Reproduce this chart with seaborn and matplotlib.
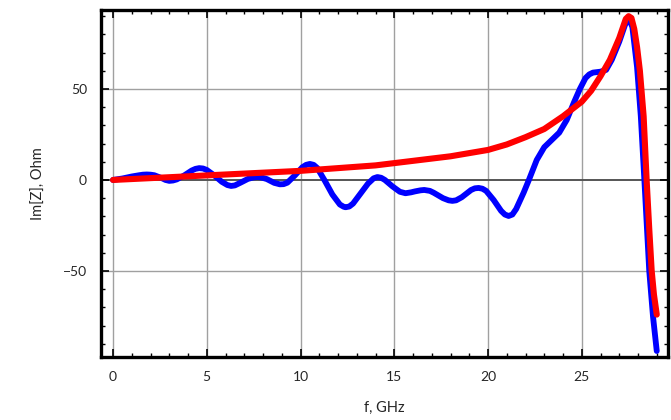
import numpy as np
import pandas as pd
import matplotlib
matplotlib.use("Agg")
import matplotlib.pyplot as plt
from matplotlib.ticker import MultipleLocator
import seaborn as sns

# Blue curve (oscillating)
blue_f = [0.0, 0.5, 1.0, 1.4, 1.6, 1.8, 2.0, 2.2, 2.6, 2.8, 3.0, 3.2, 3.4, 3.8, 4.2,
          4.4, 4.6, 4.8, 5.0, 5.4, 5.8, 6.1, 6.3, 6.5, 6.8, 7.2, 7.5, 7.7, 7.9, 8.2,
          8.6, 8.9, 9.1, 9.3, 9.7, 10.1, 10.3, 10.5, 10.7, 10.9, 11.3, 11.7, 12.1,
          12.3, 12.4, 12.6, 12.8, 13.2, 13.6, 13.9, 14.1, 14.3, 14.5, 14.9, 15.3,
          15.6, 15.9, 16.1, 16.4, 16.6, 16.9, 17.1, 17.6, 17.9, 18.1, 18.3, 18.6,
          19.1, 19.3, 19.5, 19.7, 19.9, 20.3, 20.7, 20.9, 21.1, 21.3, 21.5, 21.9,
          22.2, 22.6, 23.0, 23.4, 23.8, 24.2, 24.6, 24.9, 25.2, 25.4, 25.6, 26.0,
          26.3, 26.6, 27.0, 27.3, 27.45, 27.55, 27.7, 27.95, 28.15, 28.34, 28.6,
          28.8, 29.0]
blue_im = [0.0, 0.8, 1.9, 2.6, 2.9, 3.0, 2.9, 2.6, 1.0, 0.0, -0.5, -0.3, 0.3, 2.5,
           5.2, 6.1, 6.5, 6.3, 5.5, 2.5, -1.0, -2.8, -3.3, -3.0, -1.5, 0.6, 1.4,
           1.6, 1.4, 0.5, -1.6, -2.4, -2.3, -1.5, 2.5, 7.0, 8.3, 8.8, 8.3, 6.5,
           -0.5, -8.0, -13.5, -14.7, -15.0, -14.6, -13.0, -7.5, -2.0, 0.9, 1.6, 1.2,
           0.0, -3.5, -6.5, -7.3, -6.8, -6.3, -5.7, -5.5, -6.0, -7.0, -10.0, -11.2,
           -11.5, -11.2, -9.5, -5.5, -4.6, -4.4, -4.8, -6.0, -11.0, -17.0, -19.0,
           -19.8, -19.0, -16.0, -7.0, 0.5, 11.0, 18.0, 22.0, 26.0, 33.0, 43.0, 50.0,
           56.0, 58.0, 59.0, 59.5, 60.5, 66.0, 76.0, 85.0, 88.0, 88.0, 84.0, 62.0,
           35.0, 0.0, -50.0, -75.0, -94.0]

# Red curve (smooth)
red_f = [0.0, 2.0, 4.0, 6.0, 8.0, 10.0, 12.0, 14.0, 16.0, 18.0, 20.0, 21.0, 22.0,
         23.0, 24.0, 25.0, 25.5, 26.0, 26.5, 27.0, 27.2, 27.35, 27.5, 27.65, 27.8,
         27.95, 28.1, 28.3, 28.46, 28.6, 28.73, 28.85, 29.0]
red_im = [0.0, 1.0, 2.0, 3.0, 4.0, 5.0, 6.5, 8.0, 10.5, 13.0, 16.5, 19.5, 23.5,
          28.0, 35.0, 43.0, 49.0, 57.0, 66.0, 78.0, 84.0, 88.5, 90.0, 89.0, 83.0,
          73.0, 60.0, 35.0, 0.0, -27.0, -50.0, -63.0, -74.0]

x_ticks = [0, 5, 10, 15, 20, 25]
y_ticks = [-50, 0, 50]

sns.set_style("white")
plt.rcParams['font.family'] = ['Lato', 'DejaVu Sans']
plt.rcParams['axes.unicode_minus'] = True

fig = plt.figure(figsize=(6.71, 4.20), dpi=100)
ax = fig.add_axes([101/671, 1-357/420, (668-101)/671, (357-10)/420])

blue_df = pd.DataFrame({"f": blue_f, "im": blue_im})
red_df = pd.DataFrame({"f": red_f, "im": red_im})

ax.set_xlim(-0.64, 29.6)
ax.set_ylim(-97.3, 93.4)

for xv in x_ticks:
    ax.axvline(xv, color="#a0a0a0", lw=1.0, zorder=0)
for yv in y_ticks:
    ax.axhline(yv, color="#555555" if yv == 0 else "#a0a0a0",
               lw=1.4 if yv == 0 else 1.0, zorder=0)

sns.lineplot(data=blue_df, x="f", y="im", ax=ax, color="#0000ff", lw=4.2,
             sort=False, estimator=None, solid_joinstyle="round", solid_capstyle="round")
sns.lineplot(data=red_df, x="f", y="im", ax=ax, color="#ff0000", lw=4.4,
             sort=False, estimator=None, solid_joinstyle="round", solid_capstyle="round")

ax.set_xticks(x_ticks)
ax.set_yticks(y_ticks)
ax.xaxis.set_minor_locator(MultipleLocator(1))
ax.yaxis.set_minor_locator(MultipleLocator(10))
ax.tick_params(which="both", direction="in", top=True, right=True, bottom=True, left=True,
               color="black")
ax.tick_params(which="major", length=6, width=1.2, labelsize=10, pad=10)
ax.tick_params(which="minor", length=3, width=1.0)

for s in ax.spines.values():
    s.set_linewidth(2.4)
    s.set_color("black")

ax.set_xlabel("f, GHz", fontsize=10.5, labelpad=13)
ax.set_ylabel("Im[Z], Ohm", fontsize=10.5, labelpad=12)

fig.savefig("out.png", dpi=100)
